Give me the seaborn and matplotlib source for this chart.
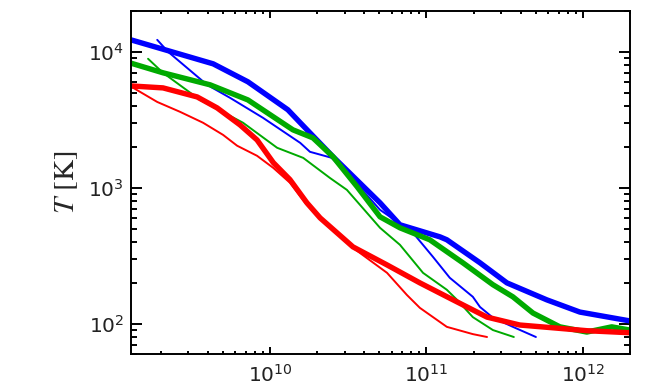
import numpy as np
import pandas as pd
import matplotlib
matplotlib.use('Agg')
import matplotlib.pyplot as plt
import matplotlib.ticker as mticker
import seaborn as sns

# --- data (x: mass-like axis, y: temperature in K) ---
blue_thick_x = [1.29e9, 4.33e9, 7.22e9, 1.30e10, 1.56e10, 2.53e10, 5.05e10, 6.77e10,
                1.22e11, 1.35e11, 2.20e11, 3.27e11, 5.89e11, 9.57e11, 2.0e12]
blue_thick_y = [12250, 8160, 6020, 3750, 3010, 1690, 776, 535,
                436, 415, 281, 200, 150, 122, 105]

blue_thin_x = [1.90e9, 2.23e9, 3.96e9, 5.55e9, 9.02e9, 1.56e10, 1.80e10, 2.49e10, 3.10e10,
               5.05e10, 8.20e10, 1.10e11, 1.41e11, 1.98e11, 2.20e11, 2.66e11, 3.57e11, 5.01e11]
blue_thin_y = [12250, 10000, 5720, 4590, 3270, 2140, 1840, 1660, 1290,
               689, 467, 311, 218, 158, 133, 111, 95, 80]

green_thick_x = [1.27e9, 2.07e9, 4.14e9, 7.22e9, 1.40e10, 1.88e10, 2.53e10, 3.60e10, 5.05e10,
                 6.77e10, 1.05e11, 1.71e11, 2.66e11, 3.57e11, 4.80e11, 7.13e11, 1.06e12,
                 1.53e12, 2.0e12]
green_thick_y = [8300, 7010, 5720, 4430, 2670, 2330, 1690, 1020, 612,
                 508, 415, 281, 194, 158, 120, 95, 87,
                 95, 90]

green_thin_x = [1.66e9, 2.07e9, 3.57e9, 6.72e9, 1.11e10, 1.63e10, 2.42e10, 3.10e10, 5.05e10,
                6.77e10, 9.51e10, 1.35e11, 1.57e11, 1.98e11, 2.66e11, 3.62e11]
green_thin_y = [8890, 7010, 4430, 3010, 1970, 1660, 1180, 966, 508,
                381, 237, 178, 150, 112, 90, 80]

red_thick_x = [1.27e9, 2.07e9, 3.42e9, 4.59e9, 6.43e9, 8.26e9, 1.05e10, 1.34e10, 1.72e10,
               2.09e10, 3.39e10, 5.60e10, 9.08e10, 1.48e11, 2.44e11, 3.95e11, 6.43e11,
               1.06e12, 2.0e12]
red_thick_y = [5620, 5430, 4660, 3870, 2900, 2250, 1530, 1150, 776,
               601, 368, 271, 200, 150, 112, 98, 93.5,
               89, 86]

red_thin_x = [1.27e9, 1.90e9, 2.66e9, 3.73e9, 5.01e9, 6.16e9, 8.26e9, 1.05e10, 1.34e10,
              1.72e10, 2.42e10, 3.39e10, 5.60e10, 7.50e10, 9.08e10, 1.35e11, 1.98e11, 2.44e11]
red_thin_y = [5620, 4280, 3620, 3010, 2450, 2040, 1720, 1400, 1090,
              750, 508, 362, 237, 163, 131, 95, 84, 80]

BLUE = '#0000ff'
GREEN = '#00aa00'
RED = '#ff0000'

curves = [
    (blue_thin_x, blue_thin_y, BLUE, 1.4),
    (blue_thick_x, blue_thick_y, BLUE, 3.9),
    (green_thin_x, green_thin_y, GREEN, 1.4),
    (green_thick_x, green_thick_y, GREEN, 3.9),
    (red_thin_x, red_thin_y, RED, 1.4),
    (red_thick_x, red_thick_y, RED, 3.9),
]

sns.set_style('ticks')
plt.rcParams['font.family'] = ['DejaVu Sans']
plt.rcParams['mathtext.fontset'] = 'stix'

fig = plt.figure(figsize=(6.68, 3.89), dpi=100)
ax = fig.add_axes([0.196, 0.090, 0.747, 0.882])

for xs, ys, col, lw in curves:
    df = pd.DataFrame({'x': xs, 'y': ys})
    sns.lineplot(data=df, x='x', y='y', color=col, linewidth=lw,
                 sort=False, estimator=None, ax=ax)

ax.set_xscale('log')
ax.set_yscale('log')
ax.set_xlim(1.29e9, 2.0e12)
ax.set_ylim(60, 2.0e4)

ax.xaxis.set_major_locator(mticker.LogLocator(base=10))
ax.xaxis.set_minor_locator(mticker.LogLocator(base=10, subs=np.arange(2, 10)))
ax.yaxis.set_major_locator(mticker.LogLocator(base=10))
ax.yaxis.set_minor_locator(mticker.LogLocator(base=10, subs=np.arange(2, 10)))
ax.xaxis.set_minor_formatter(mticker.NullFormatter())
ax.yaxis.set_minor_formatter(mticker.NullFormatter())
ax.xaxis.set_major_formatter(mticker.LogFormatterMathtext())
ax.yaxis.set_major_formatter(mticker.LogFormatterMathtext())

for s in ax.spines.values():
    s.set_linewidth(1.4)
    s.set_color('black')
    s.set_visible(True)

ax.tick_params(axis='both', which='both', direction='in', top=True, right=True,
               width=1.4, color='black', labelsize=14.5, labelcolor='#222222')
ax.tick_params(axis='x', which='major', length=5, pad=7)
ax.tick_params(axis='x', which='minor', length=2.5)
ax.tick_params(axis='y', which='major', length=8, pad=5)
ax.tick_params(axis='y', which='minor', length=4)

ax.set_xlabel('')
ax.set_ylabel(r'$T$ [K]', fontsize=21, family='STIXGeneral', labelpad=6)

fig.savefig('out.png', dpi=100)
